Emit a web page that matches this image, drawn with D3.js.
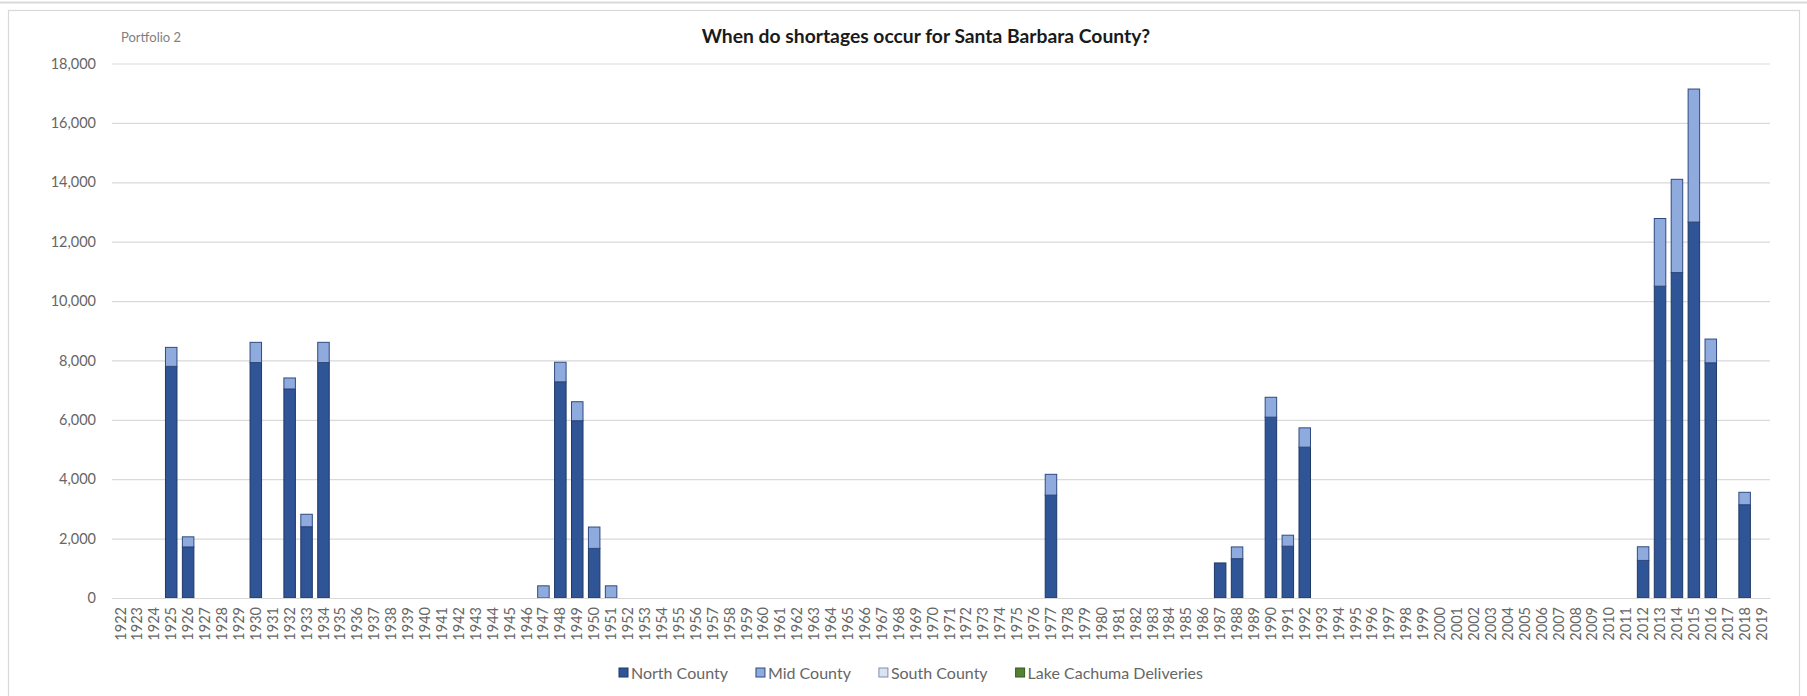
<!DOCTYPE html>
<html>
<head>
<meta charset="utf-8">
<script src="https://cdn.jsdelivr.net/npm/d3@7"></script>
<style>
  html, body { margin: 0; padding: 0; background: #fff; }
  svg { display: block; }
  text { font-family: Lato, "Open Sans", sans-serif; }
</style>
</head>
<body>
<svg id="chart" width="1807" height="696"></svg>
<script>
// ---- Data ----
const years = [1922,1923,1924,1925,1926,1927,1928,1929,1930,1931,1932,1933,1934,1935,1936,1937,1938,1939,1940,1941,1942,1943,1944,1945,1946,1947,1948,1949,1950,1951,1952,1953,1954,1955,1956,1957,1958,1959,1960,1961,1962,1963,1964,1965,1966,1967,1968,1969,1970,1971,1972,1973,1974,1975,1976,1977,1978,1979,1980,1981,1982,1983,1984,1985,1986,1987,1988,1989,1990,1991,1992,1993,1994,1995,1996,1997,1998,1999,2000,2001,2002,2003,2004,2005,2006,2007,2008,2009,2010,2011,2012,2013,2014,2015,2016,2017,2018,2019];

// Shortage-year values (years with non-zero shortage)
const shortageYears = [1925,1926,1930,1932,1933,1934,1947,1948,1949,1950,1951,1977,1987,1988,1990,1991,1992,2012,2013,2014,2015,2016,2018];
const northCounty   = [7800,1720,7930,7040,2400,7930,0,7280,5970,1670,0,3465,1180,1325,6090,1745,5080,1265,10500,10960,12660,7920,3140];
const midCounty     = [640,340,680,370,420,680,410,660,640,720,410,700,0,395,670,370,650,460,2280,3140,4480,800,420];
const southCounty   = [0,0,0,0,0,0,0,0,0,0,0,0,0,0,0,0,0,0,0,0,0,0,0];
const lakeCachuma   = [0,0,0,0,0,0,0,0,0,0,0,0,0,0,0,0,0,0,0,0,0,0,0];

const seriesNames = ["North County","Mid County","South County","Lake Cachuma Deliveries"];
const seriesColors = ["#2F5597","#8FAADC","#DAE3F3","#548235"];
const seriesStroke = ["#1F3864","#2F4A80","#7F8FA8","#385723"];
const yTicks = [0,2000,4000,6000,8000,10000,12000,14000,16000,18000];

const titleText = "When do shortages occur for Santa Barbara County?";
const subtitleText = "Portfolio 2";

// ---- Build table ----
const table = years.map(y => {
  const i = shortageYears.indexOf(y);
  return {
    year: y,
    "North County": i >= 0 ? northCounty[i] : 0,
    "Mid County": i >= 0 ? midCounty[i] : 0,
    "South County": i >= 0 ? southCounty[i] : 0,
    "Lake Cachuma Deliveries": i >= 0 ? lakeCachuma[i] : 0
  };
});

const svg = d3.select("#chart");
const W = 1807, H = 696;
const plot = { left: 112, right: 1770, top: 63.5, bottom: 598 };

// Frame
svg.append("line").attr("x1",0).attr("x2",W).attr("y1",2.5).attr("y2",2.5)
  .attr("stroke","#d9d9d9").attr("stroke-width",2);
svg.append("rect").attr("x",8.5).attr("y",10.5).attr("width",1791).attr("height",700)
  .attr("fill","#fff").attr("stroke","#d9d9d9").attr("stroke-width",1.2);

const x = d3.scaleBand().domain(years).range([plot.left, plot.right])
  .paddingInner(0.32).paddingOuter(0.16);
const y = d3.scaleLinear().domain([0,18000]).range([plot.bottom, plot.top]);

// Gridlines + y axis
const yAxis = d3.axisLeft(y).tickValues(yTicks).tickFormat(d3.format(","))
  .tickSize(-(plot.right - plot.left)).tickPadding(16);
const gy = svg.append("g").attr("transform",`translate(${plot.left},0)`).call(yAxis);
gy.select(".domain").remove();
gy.selectAll(".tick line").attr("stroke","#d9d9d9").attr("stroke-width",1.2);
gy.selectAll(".tick text").attr("fill","#666666").style("font-size","14.5px")
  .style("font-family","Lato, sans-serif");

// Stacked bars
const stack = d3.stack().keys(seriesNames);
const stacked = stack(table);
const gBars = svg.append("g");
stacked.forEach((layer, li) => {
  gBars.append("g").selectAll("rect")
    .data(layer.filter(d => d[1] - d[0] > 0))
    .join("rect")
    .attr("x", d => x(d.data.year))
    .attr("width", x.bandwidth())
    .attr("y", d => y(d[1]))
    .attr("height", d => y(d[0]) - y(d[1]))
    .attr("fill", seriesColors[li])
    .attr("stroke", seriesStroke[li])
    .attr("stroke-width", 1);
});

// x axis
const xAxis = d3.axisBottom(x).tickSize(0).tickPadding(0);
const gx = svg.append("g").attr("transform",`translate(0,${plot.bottom})`).call(xAxis);
gx.select(".domain").attr("stroke","#d9d9d9").attr("stroke-width",1.2);
gx.selectAll(".tick text")
  .attr("fill","#666666").style("font-size","14.5px").style("font-family","Lato, sans-serif")
  .attr("text-anchor","end")
  .attr("transform","translate(0,9) rotate(-90)")
  .attr("x",0).attr("y",0).attr("dy","0.35em");

// Titles
svg.append("text").attr("x",121).attr("y",42).text(subtitleText)
  .attr("fill","#808080").style("font-size","13px");
svg.append("text").attr("x",926).attr("y",43).attr("text-anchor","middle").text(titleText)
  .attr("fill","#1a1a1a").style("font-size","19.3px").style("font-weight","bold");

// Legend
const legend = svg.append("g");
const lgY = 673;
let lx = 619;
const gaps = 28;
seriesNames.forEach((name, i) => {
  const g = legend.append("g").attr("transform",`translate(${lx},0)`);
  g.append("rect").attr("x",0).attr("y",lgY-5).attr("width",9).attr("height",9)
    .attr("fill",seriesColors[i]).attr("stroke",seriesStroke[i]).attr("stroke-width",1);
  const t = g.append("text").attr("x",12).attr("y",lgY).attr("dy","0.35em").text(name)
    .attr("fill","#666666").style("font-size","16px");
  lx += 12 + t.node().getComputedTextLength() + gaps;
});
</script>
</body>
</html>
